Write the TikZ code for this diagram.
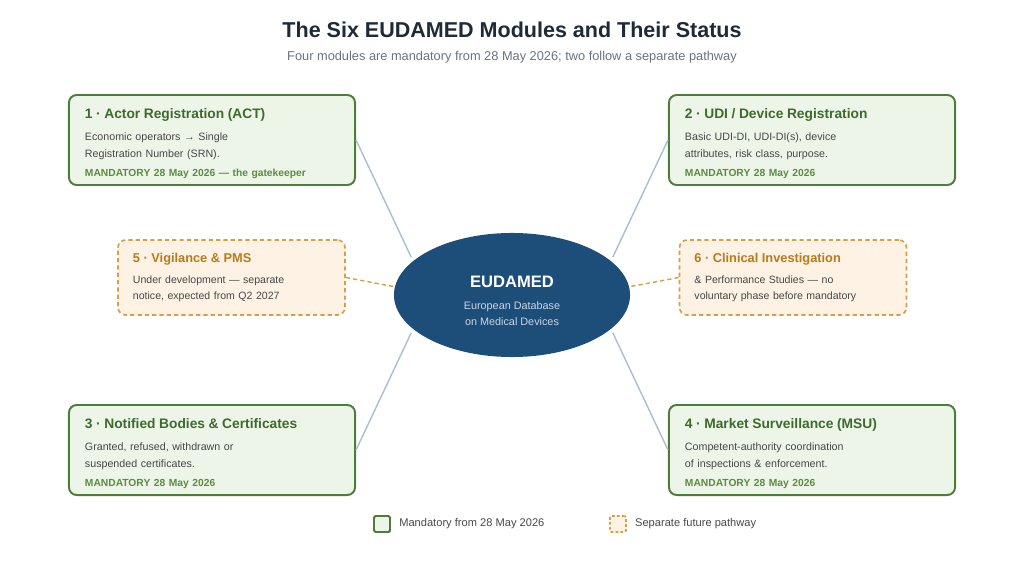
\documentclass[tikz,border=0pt]{standalone}
\usepackage{fontspec}
\setmainfont{Liberation Sans}
\usepackage{xcolor}
\usepackage{tikz}
\usetikzlibrary{shapes.geometric, arrows.meta, positioning}

\definecolor{titleink}{HTML}{1E2A38}
\definecolor{subink}{HTML}{6B7280}
\definecolor{bodyink}{HTML}{474747}
\definecolor{mandborder}{HTML}{4E7D3A}
\definecolor{mandfill}{HTML}{EDF5E9}
\definecolor{mandhead}{HTML}{3D6B2C}
\definecolor{mandnote}{HTML}{5B8C41}
\definecolor{futborder}{HTML}{D6A045}
\definecolor{futfill}{HTML}{FDF2E3}
\definecolor{futhead}{HTML}{B97A1C}
\definecolor{hubblue}{HTML}{1D4E79}
\definecolor{hubsub}{HTML}{C6D6E6}
\definecolor{linkblue}{HTML}{A8BFD1}

\begin{document}
\begin{tikzpicture}[
        x=0.025cm, y=-0.025cm,
        mandnode/.style={rectangle, rounded corners=5.5pt, draw=mandborder, fill=mandfill, line width=1.4pt, minimum width=7.15cm, minimum height=2.25cm, text width=6.35cm, inner xsep=0.4cm, align=left, text=bodyink, font=\fontsize{7.6}{12.1}\selectfont},
        futnode/.style={rectangle, rounded corners=5.5pt, draw=futborder, fill=futfill, line width=1.2pt, dash pattern=on 3pt off 2.2pt, minimum width=5.675cm, minimum height=1.875cm, text width=4.925cm, inner xsep=0.375cm, align=left, text=bodyink, font=\fontsize{7.5}{11.6}\selectfont},
        hubnode/.style={ellipse, fill=hubblue, minimum width=5.9cm, minimum height=3.1cm, inner sep=0pt, align=center, text=hubsub, font=\fontsize{7.7}{12}\selectfont},
        legbox/.style={rectangle, rounded corners=1pt, minimum size=0.4cm, inner sep=0pt},
        legtext/.style={inner sep=0pt, text=bodyink, font=\fontsize{7.9}{10}\selectfont},
        linkline/.style={line width=1pt, color=linkblue, shorten >=3pt},
        futline/.style={line width=1pt, color=futborder, dash pattern=on 3pt off 2.2pt}
    ]
        \useasboundingbox (0,0) rectangle (1024,571);

        % Heading
        \node[font=\fontsize{15.3}{18}\selectfont\bfseries, text=titleink] (title) at (512,30) {The Six EUDAMED Modules and Their Status};
        \node[font=\fontsize{9.1}{11}\selectfont, text=subink] (subtitle) at (512,57) {Four modules are mandatory from 28 May 2026; two follow a separate pathway};

        % Central Hub
        \node[hubnode] (hub) at (512,295) {\rule{0pt}{17pt}{\fontsize{11.8}{14}\selectfont\bfseries\color{white}EUDAMED}\\[3pt] European Database\\ on Medical Devices};

        % Mandatory modules
        \node[mandnode] (act) at (212,140) {\rule{0pt}{11.7pt}{\fontsize{9.8}{12}\selectfont\bfseries\color{mandhead}1 · Actor Registration (ACT)}\\[3.5pt]
            Economic operators → Single\\ Registration Number (SRN).\\[1.4pt]
            {\fontsize{7.3}{12}\selectfont\bfseries\color{mandnote}MANDATORY 28 May 2026 — the gatekeeper}};
        \node[mandnode] (udi) at (812,140) {\rule{0pt}{11.7pt}{\fontsize{9.8}{12}\selectfont\bfseries\color{mandhead}2 · UDI / Device Registration}\\[3.5pt]
            Basic UDI-DI, UDI-DI(s), device\\ attributes, risk class, purpose.\\[1.4pt]
            {\fontsize{7.3}{12}\selectfont\bfseries\color{mandnote}MANDATORY 28 May 2026}};
        \node[mandnode] (nbc) at (212,450) {\rule{0pt}{11.7pt}{\fontsize{9.8}{12}\selectfont\bfseries\color{mandhead}3 · Notified Bodies \& Certificates}\\[3.5pt]
            Granted, refused, withdrawn or\\ suspended certificates.\\[1.4pt]
            {\fontsize{7.3}{12}\selectfont\bfseries\color{mandnote}MANDATORY 28 May 2026}};
        \node[mandnode] (msu) at (812,450) {\rule{0pt}{11.7pt}{\fontsize{9.8}{12}\selectfont\bfseries\color{mandhead}4 · Market Surveillance (MSU)}\\[3.5pt]
            Competent-authority coordination\\ of inspections \& enforcement.\\[1.4pt]
            {\fontsize{7.3}{12}\selectfont\bfseries\color{mandnote}MANDATORY 28 May 2026}};

        % Separate pathway modules
        \node[futnode] (vig) at (231.5,277.5) {{\fontsize{9.1}{12}\selectfont\bfseries\color{futhead}5 · Vigilance \& PMS}\\[3.5pt]
            Under development — separate\\ notice, expected from Q2 2027};
        \node[futnode] (cli) at (793,277.5) {{\fontsize{9.1}{12}\selectfont\bfseries\color{futhead}6 · Clinical Investigation}\\[3.5pt]
            \& Performance Studies — no\\ voluntary phase before mandatory};

        % Connections
        \draw[linkline] (act.east) -- (hub.161);
        \draw[linkline] (udi.west) -- (hub.19);
        \draw[linkline] (nbc.east) -- (hub.199);
        \draw[linkline] (msu.west) -- (hub.341);
        \draw[futline] (vig.east) -- (hub.176);
        \draw[futline] (cli.west) -- (hub.4);

        % Legend
        \node[legbox, draw=mandborder, fill=mandfill, line width=1.4pt] (legmand) at (382,524) {};
        \node[legtext, right=0.2cm of legmand] (legmandtext) {Mandatory from 28 May 2026};
        \node[legbox, draw=futborder, fill=futfill, line width=1.2pt, dash pattern=on 2pt off 1.5pt] (legfut) at (618,524) {};
        \node[legtext, right=0.2cm of legfut] (legfuttext) {Separate future pathway};
    \end{tikzpicture}
\end{document}
